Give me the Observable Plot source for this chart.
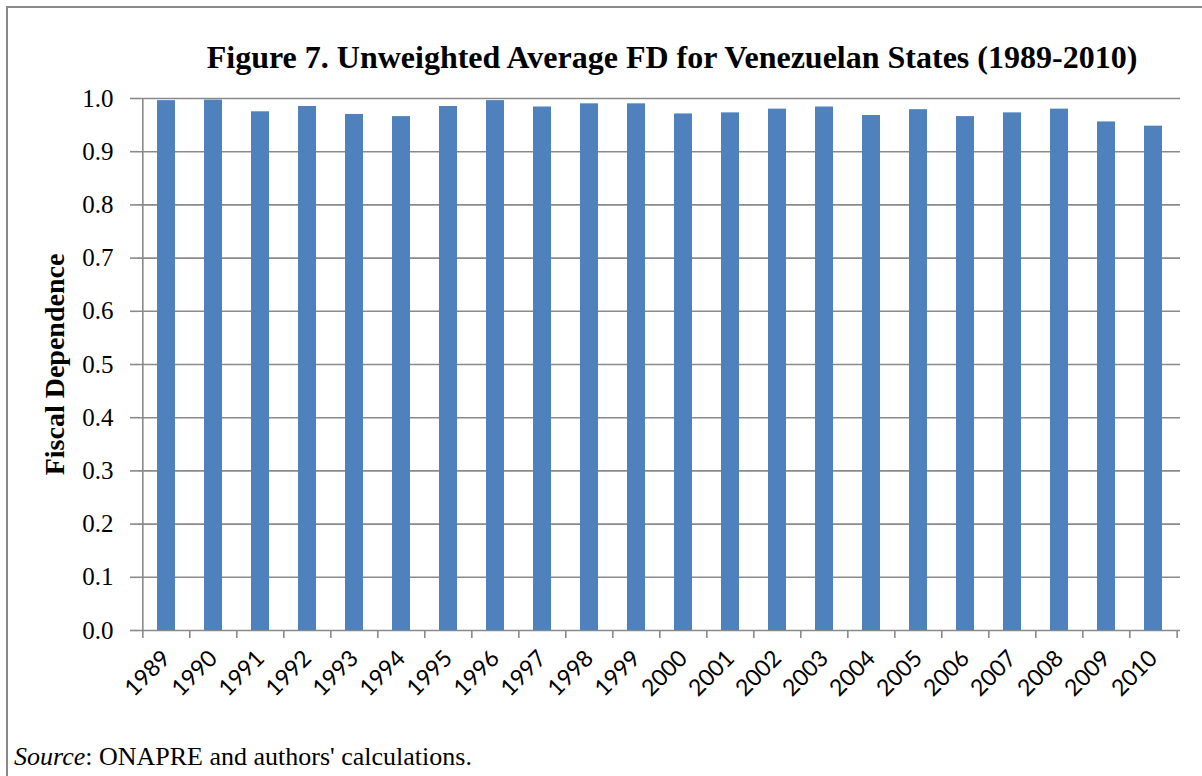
<!DOCTYPE html>
<html>
<head>
<meta charset="utf-8">
<script src="https://cdn.jsdelivr.net/npm/d3@7"></script>
<script src="https://cdn.jsdelivr.net/npm/@observablehq/plot@0.6"></script>
<style>
  html, body { margin: 0; padding: 0; background: #fff; }
  body { width: 1202px; height: 776px; overflow: hidden; position: relative; font-family: "Liberation Serif", "Times New Roman", serif; }
  #border { position: absolute; left: 6px; top: 6px; width: 1400px; height: 1000px; border: 2px solid #8a8a8a; box-sizing: border-box; }
  #chart { position: absolute; left: 0; top: 0; }
  #title { position: absolute; left: 0; width: 1344px; top: 41px; text-align: center; font-weight: bold; font-size: 32px; line-height: 32px; color: #000; white-space: nowrap; }
  #source { position: absolute; left: 14px; top: 744px; font-size: 26px; line-height: 26px; color: #000; white-space: nowrap; }
</style>
</head>
<body>
<div id="border"></div>
<div id="chart"></div>
<div id="title">Figure 7. Unweighted Average FD for Venezuelan States (1989-2010)</div>
<div id="source"><i>Source</i>: ONAPRE and authors' calculations.</div>
<script>
const years = ["1989","1990","1991","1992","1993","1994","1995","1996","1997","1998","1999",
               "2000","2001","2002","2003","2004","2005","2006","2007","2008","2009","2010"];
const fd = [0.996, 0.997, 0.975, 0.985, 0.970, 0.966, 0.985, 0.996, 0.984, 0.990, 0.990,
            0.971, 0.973, 0.980, 0.984, 0.968, 0.979, 0.966, 0.973, 0.980, 0.956, 0.948];
const yTicks = [0, 0.1, 0.2, 0.3, 0.4, 0.5, 0.6, 0.7, 0.8, 0.9, 1.0];
const yLabel = "Fiscal Dependence";

const data = years.map((y, i) => ({year: y, value: fd[i]}));

const W = 1202, H = 776, mL = 138, mR = 22, mT = 98, mB = 146;
const step = (W - mL - mR) / years.length;
const grey = "#8a8a8a";

const chart = Plot.plot({
  width: W,
  height: H,
  marginLeft: mL,
  marginRight: mR,
  marginTop: mT,
  marginBottom: mB,
  style: { fontFamily: "'Liberation Serif', serif", background: "transparent", overflow: "visible" },
  x: { domain: years, paddingInner: 0.62, paddingOuter: 0.31, label: null, axis: null },
  y: { domain: [0, 1], label: null, axis: null },
  marks: [
    Plot.gridY(yTicks, { stroke: grey, strokeOpacity: 1, strokeWidth: 1.6 }),
    Plot.barY(data, { x: "year", y: "value", fill: "#4F81BD" }),
    Plot.ruleX([years[0]], { y1: 0, y2: 1, dx: -step / 2, stroke: grey, strokeWidth: 1.6 }),
    Plot.axisY({ ticks: yTicks, tickSize: 8, tickPadding: 17, stroke: grey, strokeWidth: 1.6,
                 tickFormat: d3.format(".1f"), fontSize: 25, fill: "#000", label: null }),
    Plot.axisX({ ticks: years, tickSize: 8, text: null, dx: -step / 2, stroke: grey, strokeWidth: 1.6, label: null }),
    Plot.axisX({ ticks: [years[years.length - 1]], tickSize: 8, text: null, dx: step / 2, stroke: grey, strokeWidth: 1.6, label: null }),
    Plot.axisX({ ticks: years, tickSize: 0, tickPadding: 24, tickRotate: -45, fontSize: 23,
                 fontFamily: "Lato, 'Open Sans', sans-serif", fill: "#000", label: null }),
    Plot.text([yLabel], { text: d => d, frameAnchor: "left", textAnchor: "middle", lineAnchor: "middle",
                 rotate: -90, dx: -83, fontSize: 28, fontWeight: "bold", fill: "#000" })
  ]
});
document.getElementById("chart").appendChild(chart);
</script>
</body>
</html>
